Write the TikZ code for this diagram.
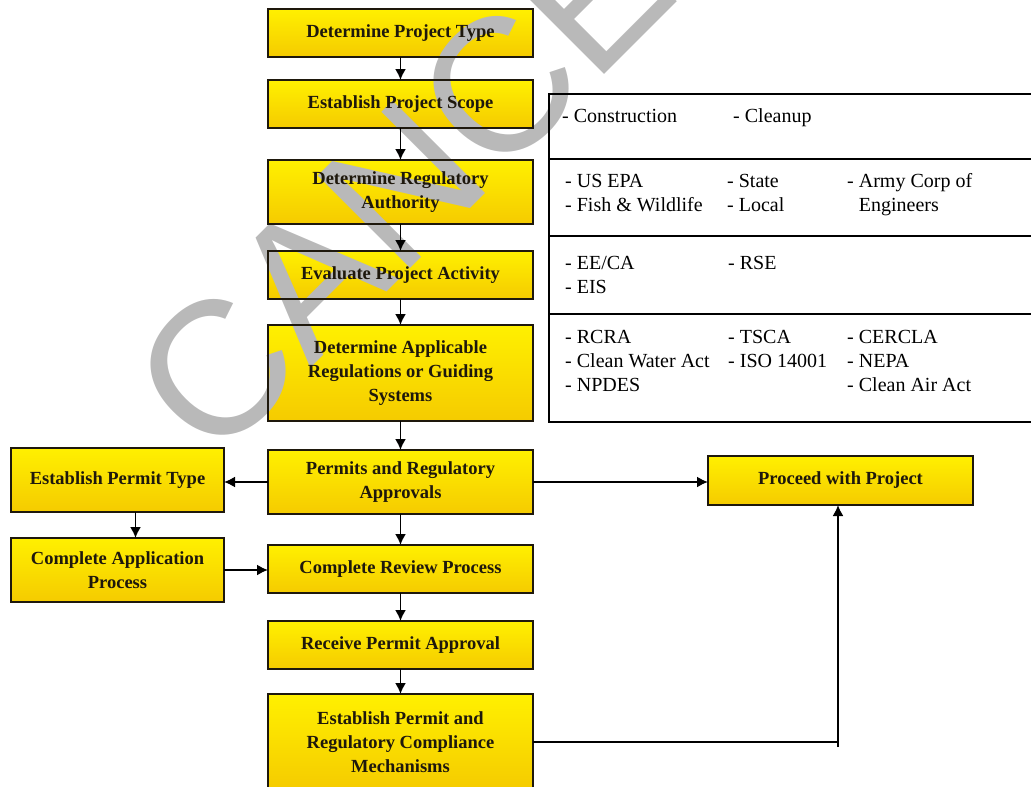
\documentclass[tikz,border=0pt]{standalone}
\usepackage{fontspec}
\setmainfont{Liberation Serif}
\newfontfamily\markfont{Liberation Sans}
\usetikzlibrary{arrows.meta,positioning}

\pgfdeclarelayer{background}
\pgfdeclarelayer{stamp}
\pgfsetlayers{background,stamp,main}

\definecolor{boxtop}{RGB}{255,240,0}
\definecolor{boxbot}{RGB}{245,203,0}
\definecolor{ink}{RGB}{30,24,12}

\begin{document}
\begin{tikzpicture}[x=1pt, y=-1pt, >={Latex[length=11pt,width=11pt]}, line width=1.5pt]
    \tikzstyle{proc}=[rectangle, draw=ink, line width=2.2pt, text=ink, align=center,
        inner sep=0pt, outer sep=0pt, font=\fontsize{18.5}{24}\selectfont\bfseries]
    \tikzstyle{row}=[rectangle, draw=black, line width=1.8pt, inner sep=0pt,
        minimum width=497pt, anchor=north west]
    \tikzstyle{cell}=[anchor=base west, align=left, inner sep=0pt,
        font=\fontsize{20}{24}\selectfont]
    \tikzstyle{link}=[draw=black, line width=1.8pt]

    \useasboundingbox (0,0) rectangle (1031,787);

    % main column
    \node[proc, minimum width=265pt, minimum height=48pt] (ptype) at (400.5,33) {Determine Project Type};
    \node[proc, minimum width=265pt, minimum height=48pt] (scope) at (400.5,104) {Establish Project Scope};
    \node[proc, minimum width=265pt, minimum height=64pt] (auth) at (400.5,192) {Determine Regulatory\\Authority};
    \node[proc, minimum width=265pt, minimum height=48pt] (activ) at (400.5,275) {Evaluate Project Activity};
    \node[proc, minimum width=265pt, minimum height=96pt] (regs) at (400.5,373) {Determine Applicable\\Regulations or Guiding\\Systems};
    \node[proc, minimum width=265pt, minimum height=64pt] (perm) at (400.5,482) {Permits and Regulatory\\Approvals};
    \node[proc, minimum width=265pt, minimum height=48pt] (review) at (400.5,569) {Complete Review Process};
    \node[proc, minimum width=265pt, minimum height=48pt] (receive) at (400.5,645) {Receive Permit Approval};
    \node[proc, minimum width=265pt, minimum height=96pt] (comply) at (400.5,742) {Establish Permit and\\Regulatory Compliance\\Mechanisms};

    % side boxes
    \node[proc, minimum width=213pt, minimum height=64pt] (ptkind) at (117.5,480) {Establish Permit Type};
    \node[proc, minimum width=213pt, minimum height=64pt] (appl) at (117.5,570) {Complete Application\\Process};
    \node[proc, minimum width=265pt, minimum height=49pt] (proceed) at (840.5,480.5) {Proceed with Project};

    \begin{pgfonlayer}{background}
        \foreach \n in {ptype,scope,auth,activ,regs,perm,review,receive,comply,ptkind,appl,proceed}
            \shade[top color=boxtop, bottom color=boxbot] (\n.north west) rectangle (\n.south east);
    \end{pgfonlayer}

    % table on the right
    \node[row, minimum height=65pt] (tscope) at (548,93) {};
    \node[row, minimum height=77pt] (tauth) at (548,158) {};
    \node[row, minimum height=78pt] (tactiv) at (548,235) {};
    \node[row, minimum height=108pt] (tregs) at (548,313) {};

    % (base of a cell = baseline of its last line)
    \node[cell] (c11) at (562,122) {- Construction};
    \node[cell] (c12) at (733,122) {- Cleanup};
    \node[cell] (c21) at (565,211) {- US EPA\\- Fish \& Wildlife};
    \node[cell] (c22) at (727,211) {- State\\- Local};
    \node[cell] (c23) at (847,211) {- Army Corp of\\\phantom{- }Engineers};
    \node[cell] (c31) at (565,293) {- EE/CA\\- EIS};
    \node[cell] (c32) at (728,269) {- RSE};
    \node[cell] (c41) at (565,391) {- RCRA\\- Clean Water Act\\- NPDES};
    \node[cell] (c42) at (728,367) {- TSCA\\- ISO 14001};
    \node[cell] (c43) at (847,391) {- CERCLA\\- NEPA\\- Clean Air Act};

    % arrows
    \draw[link, ->] (ptype) -- (scope);
    \draw[link, ->] (scope) -- (auth);
    \draw[link, ->] (auth) -- (activ);
    \draw[link, ->] (activ) -- (regs);
    \draw[link, ->] (regs) -- (perm);
    \draw[link, ->] (perm) -- (review);
    \draw[link, ->] (review) -- (receive);
    \draw[link, ->] (receive) -- (comply);
    \draw[link, ->] (perm.west) -- (perm.west -| ptkind.east);
    \draw[link, ->] (perm.east) -- (perm.east -| proceed.west);
    \draw[link, ->] ([xshift=18pt]ptkind.south) -- ([xshift=18pt]appl.north);
    \draw[link, ->] (appl.east) -- (appl.east -| review.west);

    \coordinate (turn) at (838,742);
    \draw[link] (comply.east) -- (turn);
    \draw[link, ->] ([yshift=-5pt]turn) -- (turn |- proceed.south);

    % watermark
    \begin{pgfonlayer}{stamp}
        \begin{scope}
            \clip (0,0) rectangle (1031,787);
            \node[anchor=base west, rotate=45, inner sep=0pt, text=gray!55,
                font=\fontsize{190}{190}\selectfont\markfont] (mark) at (213,466) {CANCELLED};
        \end{scope}
    \end{pgfonlayer}
\end{tikzpicture}
\end{document}
